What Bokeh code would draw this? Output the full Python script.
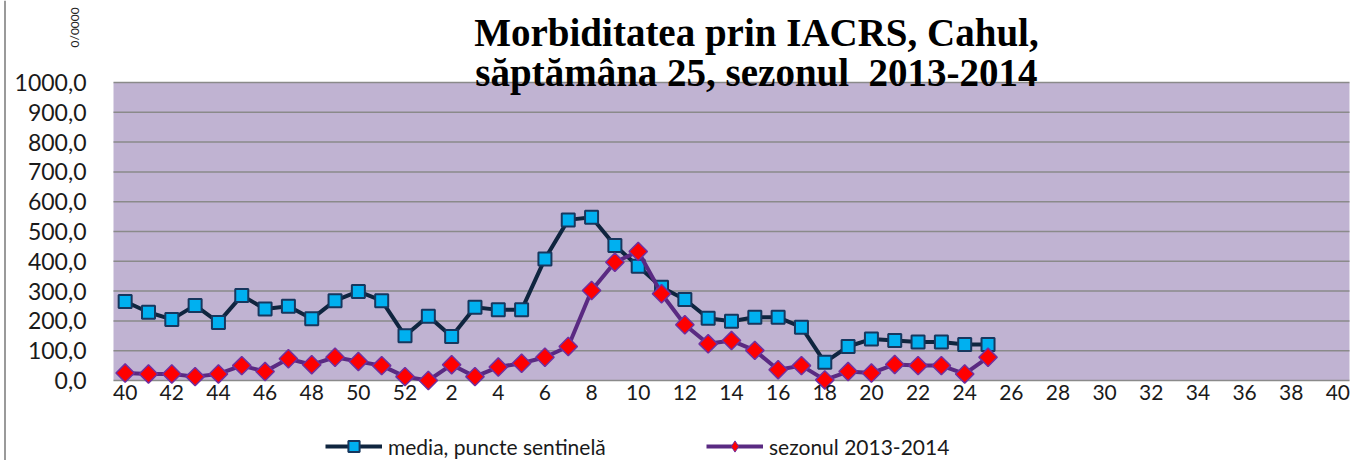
import math
from bokeh.plotting import figure
from bokeh.models import Range1d, FixedTicker, Label, Legend, LegendItem, BoxAnnotation, Span
from bokeh.embed import file_html
from bokeh.resources import INLINE

# categories (weeks of the season)
weeks = ["40", "41", "42", "43", "44", "45", "46", "47", "48", "49", "50", "51", "52",
         "1", "2", "3", "4", "5", "6", "7", "8", "9", "10", "11", "12", "13", "14",
         "15", "16", "17", "18", "19", "20", "21", "22", "23", "24", "25", "26", "27",
         "28", "29", "30", "31", "32", "33", "34", "35", "36", "37", "38", "39", "40"]

# media, puncte sentinelă (weeks 40 .. 25)
media = [265, 229, 205, 252, 195, 285, 240, 249, 207, 268, 299, 268, 150,
         216, 148, 246, 237, 237, 408, 539, 548, 453, 383, 313, 272, 209, 199,
         212, 212, 179, 61, 114, 139, 134, 129, 129, 121, 121]

# sezonul 2013-2014 (weeks 40 .. 25)
sezon = [25, 22, 22, 13, 22, 50, 30, 73, 53, 78, 64, 50, 13,
         0, 53, 13, 45, 58, 78, 114, 302, 397, 433, 291, 187, 123, 134,
         101, 36, 50, 2, 30, 25, 54, 50, 50, 22, 78]

y_ticks = [0, 100, 200, 300, 400, 500, 600, 700, 800, 900, 1000]
y_tick_labels = ["0,0", "100,0", "200,0", "300,0", "400,0", "500,0", "600,0",
                 "700,0", "800,0", "900,0", "1000,0"]

title_lines = ["Morbiditatea prin IACRS, Cahul,", "săptămâna 25, sezonul\u00a0 2013-2014"]
unit_label = "0/0000"
series_names = ["media, puncte sentinelă", "sezonul 2013-2014"]

n = len(weeks)
xs_media = list(range(len(media)))
xs_sezon = list(range(len(sezon)))

# layout: whole figure is the frame; plot area is 113..1349 x 82..380 px
FIG_W, FIG_H = 1350, 460
AREA_L, AREA_R, AREA_T, AREA_B = 113, 1349, 82, 380
x_per_px = n / (AREA_R - AREA_L)
y_per_px = 1000.0 / (AREA_B - AREA_T)
x0 = -0.5 - AREA_L * x_per_px
x1 = n - 0.5 + (FIG_W - AREA_R) * x_per_px
y0 = -(FIG_H - AREA_B) * y_per_px
y1 = AREA_B * y_per_px

p = figure(frame_width=FIG_W, frame_height=FIG_H,
           min_border_left=0, min_border_right=0, min_border_top=0, min_border_bottom=0,
           x_range=Range1d(x0, x1), y_range=Range1d(y0, y1),
           output_backend="svg", toolbar_location=None, tools="")

p.background_fill_color = "white"
p.border_fill_color = "white"
p.outline_line_color = None
p.xgrid.visible = False
p.ygrid.visible = False

# chart border (left edge, as in the cropped original)
p.add_layout(Span(location=x0 + 4.5 * x_per_px, dimension="height",
                  line_color="#9A9A9A", line_width=2))

# plot area (0 .. 1000)
p.add_layout(BoxAnnotation(left=-0.5, right=n - 0.5, bottom=0, top=1000,
                           fill_color="#C0B3D2", fill_alpha=1.0,
                           line_color=None, level="image"))

# horizontal gridlines at the y ticks, spanning the plot area
p.segment(x0=[-0.5] * len(y_ticks), y0=y_ticks, x1=[n - 0.5] * len(y_ticks), y1=y_ticks,
          line_color="#8A8A8A", line_width=1.5, level="underlay")

# axes
tick_font = "Lato"
p.yaxis.fixed_location = -0.5
p.xaxis.fixed_location = 0
p.yaxis.ticker = FixedTicker(ticks=y_ticks)
p.yaxis.major_label_overrides = {t: l for t, l in zip(y_ticks, y_tick_labels)}
p.xaxis.ticker = FixedTicker(ticks=list(range(0, n, 2)))
p.xaxis.major_label_overrides = {i: weeks[i] for i in range(0, n, 2)}
for ax in (p.xaxis, p.yaxis):
    ax.axis_line_color = None
    ax.major_tick_line_color = None
    ax.minor_tick_line_color = None
    ax.major_tick_out = 0
    ax.major_tick_in = 0
    ax.major_label_text_font = tick_font
    ax.major_label_text_color = "#1a1a1a"
p.yaxis.major_label_text_font_size = "23px"
p.yaxis.major_label_standoff = 27
p.xaxis.major_label_text_font_size = "21px"
p.xaxis.major_label_standoff = 4

# series
l1 = p.line(xs_media, media, line_color="#0F253F", line_width=4)
s1 = p.scatter(xs_media, media, marker="square", size=13, fill_color="#00B0F0",
               line_color="#17375E", line_width=2)
l2 = p.line(xs_sezon, sezon, line_color="#5A2A82", line_width=4)
# diamond glyph used for the legend entry (hidden under the first marker)
s2_leg = p.scatter(x=xs_sezon[:1], y=sezon[:1], marker="diamond", size=13,
                   fill_color="#FF0000", line_color="#7030A0", line_width=1)
s2 = p.scatter(xs_sezon, sezon, marker="square", angle=math.pi / 4, size=13,
               fill_color="#FF0000", line_color="#7030A0", line_width=1.5)

# title
p.add_layout(Label(x=27.07, y=1168, text=title_lines[0], text_align="center",
                   text_baseline="alphabetic", text_font="Liberation Serif",
                   text_font_style="bold", text_font_size="39px", text_color="black"))
p.add_layout(Label(x=27.07, y=1034, text=title_lines[1], text_align="center",
                   text_baseline="alphabetic", text_font="Liberation Serif",
                   text_font_style="bold", text_font_size="39px", text_color="black"))

# unit label (vertical, top-left)
p.add_layout(Label(x=-2.17, y=1185, text=unit_label, angle=math.pi / 2,
                   text_align="center", text_baseline="middle", text_font="Lato",
                   text_font_size="12px", text_color="#222222"))

# legend below the plot area
legend = Legend(items=[LegendItem(label=series_names[0], renderers=[l1, s1]),
                       LegendItem(label=series_names[1], renderers=[l2, s2_leg])],
                location=(325, 0), orientation="horizontal", border_line_color=None,
                background_fill_alpha=0, padding=0, margin=0, spacing=8,
                glyph_width=57, glyph_height=28, label_standoff=6, label_width=310,
                label_text_font="Lato", label_text_font_size="21px",
                label_text_color="#1a1a1a", label_text_baseline="middle")
p.add_layout(legend, "center")

open("out.html", "w").write(file_html(p, INLINE))
